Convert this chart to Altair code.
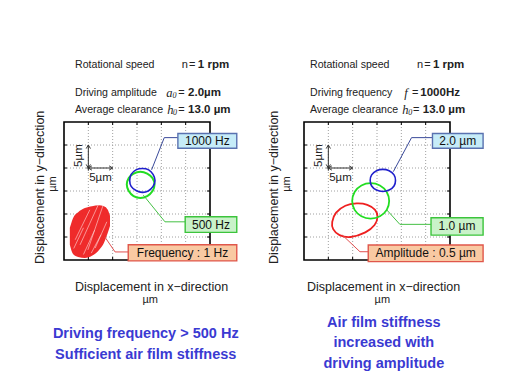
import altair as alt
import pandas as pd

# ---------------- values (micrometres) ----------------
GRID = [5, 10, 15, 20, 25]
DOMAIN = [0, 30]

# Left panel: driving amplitude 2.0 um, frequency series
L_BLUE_X = [18.7, 18.3, 17.4, 16.1, 14.8, 13.8, 13.5, 13.8, 14.8, 16.1, 17.3, 18.3]
L_BLUE_Y = [17.3, 18.6, 19.6, 19.9, 19.6, 18.6, 17.3, 16.0, 15.1, 14.7, 15.0, 16.0]
L_GREEN_X = [18.6, 18.2, 17.1, 15.7, 14.3, 13.3, 12.9, 13.3, 14.3, 15.7, 17.1, 18.2]
L_GREEN_Y = [16.4, 17.8, 18.8, 19.2, 18.8, 17.8, 16.4, 15.0, 13.9, 13.5, 13.9, 15.0]
# 1 Hz orbit cloud (upper / lower outline)
BLOB_X = [1.2, 1.85, 2.9, 4.3, 5.75, 7.2, 8.2, 9.0, 9.45]
BLOB_TOP = [7.0, 9.1, 10.4, 11.3, 11.7, 11.9, 11.7, 10.9, 9.6]
BLOB_BOT = [3.3, 1.3, 0.65, 0.45, 0.9, 2.2, 3.7, 5.9, 7.4]
STREAK_X = [[3.3, 7.0], [4.9, 8.0], [2.3, 5.3], [6.4, 8.8], [2.0, 4.0], [4.0, 6.3], [5.6, 7.6]]
STREAK_Y = [[3.3, 11.9], [2.2, 11.8], [4.4, 10.9], [2.6, 8.3], [2.5, 7.0], [1.2, 6.5], [1.5, 5.5]]

# Right panel: frequency 1000 Hz, amplitude series
R_BLUE_X = [18.8, 18.5, 17.5, 16.2, 14.9, 13.9, 13.6, 13.9, 14.9, 16.2, 17.5, 18.5]
R_BLUE_Y = [17.3, 18.5, 19.4, 19.7, 19.4, 18.5, 17.3, 16.1, 15.2, 14.9, 15.2, 16.1]
R_GREEN_X = [17.5, 17.0, 15.6, 13.7, 11.8, 10.4, 9.9, 10.4, 11.8, 13.7, 15.6, 17.0]
R_GREEN_Y = [12.8, 14.8, 16.2, 16.7, 16.2, 14.8, 12.8, 10.9, 9.5, 9.0, 9.5, 10.9]
R_RED_X = [10.8, 13.0, 14.6, 15.1, 14.5, 12.6, 9.6, 7.3, 6.0, 5.8, 6.6, 8.5]
R_RED_Y = [12.3, 12.0, 10.9, 9.4, 7.6, 6.0, 5.0, 5.4, 6.7, 8.3, 10.3, 11.8]

L_LABELS = ["1000 Hz", "500 Hz", "Frequency : 1 Hz"]
R_LABELS = ["2.0 \u00b5m", "1.0 \u00b5m", "Amplitude : 0.5 \u00b5m"]

# ---------------- annotation layout (data units) ----------------
L_BOXES = [  # x, x2, y, y2, fill, stroke
    (23.4, 35.5, 24.3, 27.5, "#c6ecf8", "#5a72b0"),
    (24.9, 35.5, 6.0, 9.4, "#c9f2c9", "#3cc43c"),
    (13.2, 35.5, -0.2, 3.3, "#f9c9a2", "#e0574b"),
]
R_BOXES = [
    (26.4, 36.8, 24.3, 27.5, "#c6ecf8", "#5a72b0"),
    (26.1, 36.8, 5.4, 9.2, "#c9f2c9", "#3cc43c"),
    (13.2, 36.8, -0.35, 3.25, "#f9c9a2", "#e0574b"),
]
L_LEADERS = [
    ([18.0, 20.6, 23.4], [19.6, 26.6, 26.6], "#3a4a9a"),
    ([16.3, 20.75, 24.9], [14.1, 8.3, 8.3], "#44c044"),
    ([8.4, 10.5, 13.2], [5.0, 1.75, 1.75], "#e05050"),
]
R_LEADERS = [
    ([18.35, 22.1, 26.4], [19.2, 26.6, 26.6], "#3a4a9a"),
    ([17.0, 19.7, 26.1], [10.9, 7.75, 7.75], "#44c044"),
    ([7.9, 11.5, 13.2], [5.4, 1.8, 1.8], "#e05050"),
]

FONT = "Liberation Sans"
SERIF = "Liberation Serif"
INK = "#222222"
NOTE = "#3a3ad2"


def X(f="x"):
    return alt.X(f"{f}:Q", scale=alt.Scale(domain=DOMAIN, nice=False, zero=False), axis=None)


def Y(f="y"):
    return alt.Y(f"{f}:Q", scale=alt.Scale(domain=DOMAIN, nice=False, zero=False), axis=None)


def texts(rows, **mark):
    df = pd.DataFrame(rows, columns=["x", "y", "text"])
    return alt.Chart(df).mark_text(**mark).encode(x=X(), y=Y(), text="text:N")


def loop(xs, ys, color, width=1.8):
    df = pd.DataFrame({"x": xs, "y": ys, "o": list(range(len(xs)))})
    return alt.Chart(df).mark_line(color=color, strokeWidth=width, interpolate="cardinal-closed").encode(
        x=X(), y=Y(), order="o:Q")


def panel(loops, boxes, box_labels, leaders, header, titles, notes, extra=None, anchor=False):
    layers = []
    if anchor:
        layers.append(alt.Chart(pd.DataFrame({"x": [-11.5], "x2": [30], "y": [54.78], "y2": [-25]}))
                      .mark_rect(opacity=0, strokeWidth=0)
                      .encode(x=X(), x2=alt.X2("x2"), y=Y(), y2=alt.Y2("y2")))
    grid_style = dict(color="#a0a0a0", strokeDash=[1, 2], strokeWidth=1)
    layers.append(alt.Chart(pd.DataFrame({"x": GRID, "y": [0] * 5, "y2": [30] * 5}))
                  .mark_rule(**grid_style).encode(x=X(), y=Y(), y2=alt.Y2("y2")))
    layers.append(alt.Chart(pd.DataFrame({"y": GRID, "x": [0] * 5, "x2": [30] * 5}))
                  .mark_rule(**grid_style).encode(x=X(), x2=alt.X2("x2"), y=Y()))
    # inward ticks on four sides
    tick = dict(color="black", strokeWidth=1)
    for y0, y1 in [(0, 0.65), (30, 29.35)]:
        layers.append(alt.Chart(pd.DataFrame({"x": GRID, "y": [y0] * 5, "y2": [y1] * 5}))
                      .mark_rule(**tick).encode(x=X(), y=Y(), y2=alt.Y2("y2")))
    for x0, x1 in [(0, 0.62), (30, 29.38)]:
        layers.append(alt.Chart(pd.DataFrame({"y": GRID, "x": [x0] * 5, "x2": [x1] * 5}))
                      .mark_rule(**tick).encode(x=X(), x2=alt.X2("x2"), y=Y()))
    layers.append(alt.Chart(pd.DataFrame({"x": [0], "x2": [30], "y": [0], "y2": [30]}))
                  .mark_rect(fillOpacity=0, stroke="black", strokeWidth=1.6)
                  .encode(x=X(), x2=alt.X2("x2"), y=Y(), y2=alt.Y2("y2")))
    # 5 um scale bar
    bar = dict(color="#333333", strokeWidth=1)
    layers.append(alt.Chart(pd.DataFrame({"x": [4.6], "x2": [10], "y": [20]}))
                  .mark_rule(**bar).encode(x=X(), x2=alt.X2("x2"), y=Y()))
    layers.append(alt.Chart(pd.DataFrame({"x": [5], "y": [19.4], "y2": [25]}))
                  .mark_rule(**bar).encode(x=X(), y=Y(), y2=alt.Y2("y2")))
    heads = [(10, 20, "M-1,-0.6L0,0L-1,0.6"), (5, 25, "M-0.6,1L0,0L0.6,1"),
             (5, 20, "M1,-0.6L0,0L1,0.6"), (5, 20, "M-0.6,-1L0,0L0.6,-1")]
    for hx, hy, path in heads:
        layers.append(alt.Chart(pd.DataFrame({"x": [hx], "y": [hy]}))
                      .mark_point(shape=path, filled=False, size=50, stroke="#333333", strokeWidth=1, opacity=1)
                      .encode(x=X(), y=Y()))
    layers.append(texts([(7.5, 17.76, "5\u00b5m")], font=FONT, fontSize=11.5, color=INK))
    layers.append(texts([(3.0, 22.7, "5\u00b5m")], font=FONT, fontSize=11.5, color=INK, angle=270))
    if extra is not None:
        layers.extend(extra)
    for xs, ys, c, w in loops:
        layers.append(loop(xs, ys, c, w))
    for xs, ys, c in leaders:
        df = pd.DataFrame({"x": xs, "y": ys, "o": [0, 1, 2]})
        layers.append(alt.Chart(df).mark_line(color=c, strokeWidth=1).encode(x=X(), y=Y(), order="o:Q"))
    for (x0, x1, y0, y1, fill, stroke), lab in zip(boxes, box_labels):
        layers.append(alt.Chart(pd.DataFrame({"x": [x0], "x2": [x1], "y": [y0], "y2": [y1]}))
                      .mark_rect(fill=fill, stroke=stroke, strokeWidth=1.4)
                      .encode(x=X(), x2=alt.X2("x2"), y=Y(), y2=alt.Y2("y2")))
        layers.append(texts([((x0 + x1) / 2, (y0 + y1) / 2, lab)], font=FONT, fontSize=12, color="#111111"))
    # header
    layers.append(texts(header["labels"], font=FONT, fontSize=10.6, color=INK, align="left"))
    layers.append(texts(header["plain"], font=FONT, fontSize=11, color=INK, align="left"))
    layers.append(texts(header["italic"], font=SERIF, fontSize=12.5, fontStyle="italic", color=INK, align="left"))
    layers.append(texts(header["sub"], font=SERIF, fontSize=8, fontStyle="italic", color=INK, align="left"))
    layers.append(texts(header["bold"], font=FONT, fontSize=11.5, fontWeight="bold", color=INK, align="left"))
    # axis titles
    layers.append(texts(titles["x"], font=FONT, fontSize=12.5, color=INK))
    layers.append(texts(titles["xu"], font=FONT, fontSize=11, color=INK))
    layers.append(texts(titles["y"], font=FONT, fontSize=12.5, color=INK, angle=270))
    layers.append(texts(titles["yu"], font=FONT, fontSize=11, color=INK, angle=270))
    # notes
    layers.append(texts(notes, font=FONT, fontSize=14.5, fontWeight="bold", color=NOTE))
    return alt.layer(*layers).properties(width=146, height=138)


# red 1 Hz cloud
blob_df = pd.DataFrame({"x": BLOB_X, "y": BLOB_TOP, "y2": BLOB_BOT})
blob = alt.Chart(blob_df).mark_area(color="#ee2020", opacity=0.95, interpolate="monotone").encode(
    x=X(), y=Y(), y2=alt.Y2("y2"))
streaks = []
for sx, sy in zip(STREAK_X, STREAK_Y):
    streaks.append(alt.Chart(pd.DataFrame({"x": sx, "y": sy, "o": [0, 1]}))
                   .mark_line(color="#ffd0d0", strokeWidth=0.8, opacity=0.8)
                   .encode(x=X(), y=Y(), order="o:Q"))

left = panel(
    loops=[(L_GREEN_X, L_GREEN_Y, "#22dd22", 2.0), (L_BLUE_X, L_BLUE_Y, "#2020cc", 1.6)],
    boxes=L_BOXES, box_labels=L_LABELS, leaders=L_LEADERS,
    header={
        "labels": [(2.26, 42.4, "Rotational speed"), (2.26, 36.3, "Driving amplitude"),
                   (2.26, 32.6, "Average clearance")],
        "plain": [(24.2, 42.4, "n"), (25.7, 42.4, "="), (23.5, 36.3, "="), (23.5, 32.6, "=")],
        "italic": [(21.0, 36.3, "a"), (21.2, 32.6, "h")],
        "sub": [(22.3, 35.6, "0"), (22.4, 31.9, "0")],
        "bold": [(27.5, 42.4, "1 rpm"), (25.5, 36.3, "2.0\u00b5m"), (25.5, 32.6, "13.0 \u00b5m")],
    },
    titles={"x": [(17.98, -5.87, "Displacement in x\u2212direction")], "xu": [(17.7, -8.7, "\u00b5m")],
            "y": [(-4.93, 15.8, "Displacement in y\u2212direction")], "yu": [(-2.3, 16.5, "\u00b5m")]},
    notes=[(16.8, -16.1, "Driving frequency > 500 Hz"), (16.8, -20.65, "Sufficient air film stiffness")],
    extra=[blob] + streaks,
    anchor=True,
)

right = panel(
    loops=[(R_RED_X, R_RED_Y, "#ee2020", 1.8), (R_GREEN_X, R_GREEN_Y, "#22dd22", 1.8),
           (R_BLUE_X, R_BLUE_Y, "#2020cc", 1.6)],
    boxes=R_BOXES, box_labels=R_LABELS, leaders=R_LEADERS,
    header={
        "labels": [(1.23, 42.4, "Rotational speed"), (1.23, 36.3, "Driving frequency"),
                   (1.23, 32.6, "Average clearance")],
        "plain": [(23.2, 42.4, "n"), (24.7, 42.4, "="), (22.2, 36.3, "="), (22.4, 32.6, "=")],
        "italic": [(20.6, 36.3, "f"), (20.2, 32.6, "h")],
        "sub": [(21.4, 31.9, "0")],
        "bold": [(26.5, 42.4, "1 rpm"), (23.9, 36.3, "1000Hz"), (24.4, 32.6, "13.0 \u00b5m")],
    },
    titles={"x": [(16.33, -5.87, "Displacement in x\u2212direction")], "xu": [(16.1, -8.7, "\u00b5m")],
            "y": [(-6.2, 15.8, "Displacement in y\u2212direction")], "yu": [(-3.4, 16.5, "\u00b5m")]},
    notes=[(16.4, -13.7, "Air film stiffness"), (16.4, -18.0, "increased with"),
           (16.4, -22.6, "driving amplitude")],
)

chart = alt.hconcat(left, right, spacing=94, bounds="flush").properties(padding=0).configure_view(stroke=None)
chart.save("out.html", embed_options={"renderer": "svg", "actions": False})
